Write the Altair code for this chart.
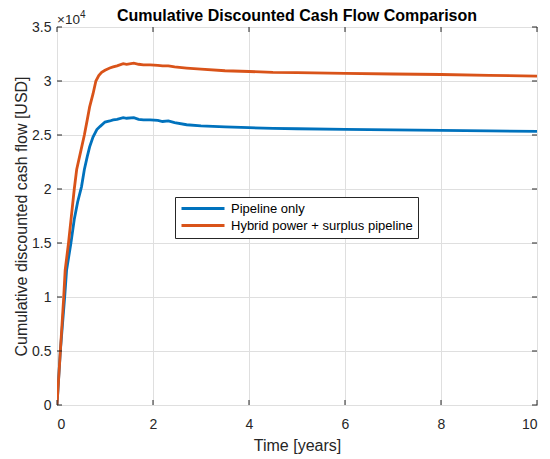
import altair as alt
import pandas as pd

# ---- data (cumulative discounted cash flow, in units of 10^4 USD) ----
series_names = ["Pipeline only", "Hybrid power + surplus pipeline"]
series_colors = ["#0072BD", "#D95319"]

t_pipeline = [0, 0.07, 0.16, 0.2, 0.29, 0.36, 0.43, 0.51, 0.57, 0.63, 0.68, 0.75,
              0.83, 0.9, 1.0, 1.1, 1.17, 1.25, 1.38, 1.45, 1.6, 1.7, 1.8, 1.94,
              2.1, 2.2, 2.32, 2.45, 2.7, 3.0, 3.5, 4.0, 4.5, 5.0, 6.0, 7.0, 8.0,
              9.0, 10.0]
v_pipeline = [0, 0.5, 1.0, 1.25, 1.5, 1.72, 1.88, 2.02, 2.18, 2.3, 2.39, 2.48,
              2.55, 2.58, 2.62, 2.63, 2.64, 2.645, 2.66, 2.655, 2.66, 2.645, 2.64,
              2.64, 2.635, 2.625, 2.63, 2.615, 2.595, 2.585, 2.575, 2.568, 2.562,
              2.558, 2.553, 2.548, 2.543, 2.538, 2.533]

t_hybrid = [0, 0.07, 0.14, 0.17, 0.24, 0.3, 0.36, 0.41, 0.5, 0.57, 0.63, 0.68,
            0.75, 0.81, 0.87, 0.93, 1.0, 1.1, 1.17, 1.25, 1.38, 1.45, 1.6, 1.7,
            1.8, 1.94, 2.1, 2.2, 2.32, 2.45, 2.7, 3.0, 3.5, 4.0, 4.5, 5.0, 6.0,
            7.0, 8.0, 9.0, 10.0]
v_hybrid = [0, 0.5, 1.0, 1.25, 1.5, 1.75, 2.0, 2.18, 2.36, 2.5, 2.64, 2.76,
            2.88, 3.0, 3.05, 3.08, 3.10, 3.12, 3.13, 3.14, 3.16, 3.155, 3.165,
            3.155, 3.15, 3.15, 3.145, 3.14, 3.14, 3.13, 3.12, 3.11, 3.095, 3.088,
            3.08, 3.077, 3.07, 3.065, 3.06, 3.053, 3.046]

x_ticks = [0, 2, 4, 6, 8, 10]
y_ticks = [0, 0.5, 1, 1.5, 2, 2.5, 3, 3.5]

title_text = "Cumulative Discounted Cash Flow Comparison"
exponent_base = "×10"
exponent_power = "4"

W, H = 480, 378
FONT = "Liberation Sans"
AX = "#262626"

df = pd.concat([
    pd.DataFrame({"t": t_pipeline, "v": v_pipeline, "series": series_names[0]}),
    pd.DataFrame({"t": t_hybrid, "v": v_hybrid, "series": series_names[1]}),
], ignore_index=True)

xscale = alt.Scale(domain=[0, 10], nice=False, zero=False)
yscale = alt.Scale(domain=[0, 3.5], nice=False)

lines = alt.Chart(df).mark_line(strokeWidth=2.8, clip=True).encode(
    x=alt.X("t:Q", scale=xscale,
            axis=alt.Axis(values=x_ticks, title="Time [years]", format="~r",
                          labelPadding=12, titlePadding=6)),
    y=alt.Y("v:Q", scale=yscale,
            axis=alt.Axis(values=y_ticks, title="Cumulative discounted cash flow [USD]",
                          format="~r", labelPadding=6, titlePadding=2)),
    color=alt.Color("series:N",
                    scale=alt.Scale(domain=series_names, range=series_colors),
                    legend=alt.Legend(title=None, orient="none", legendX=118, legendY=170,
                                      symbolType="M-1,0H7.6", symbolSize=100,
                                      symbolStrokeWidth=2.8, labelOffset=38,
                                      labelFontSize=13, labelFont=FONT, labelColor="black",
                                      padding=5, rowPadding=3, strokeColor=AX,
                                      fillColor="white", cornerRadius=0, labelLimit=400)),
)

xt_df = pd.DataFrame({"xt": x_ticks})
yt_df = pd.DataFrame({"yt": y_ticks})

tick_bottom = alt.Chart(xt_df).mark_rule(color=AX, strokeWidth=1).encode(
    x=alt.X("xt:Q", scale=xscale), y=alt.value(H), y2=alt.value(H - 5))
tick_top = alt.Chart(xt_df).mark_rule(color=AX, strokeWidth=1).encode(
    x=alt.X("xt:Q", scale=xscale), y=alt.value(0), y2=alt.value(5))
tick_left = alt.Chart(yt_df).mark_rule(color=AX, strokeWidth=1).encode(
    y=alt.Y("yt:Q", scale=yscale), x=alt.value(0), x2=alt.value(5))
tick_right = alt.Chart(yt_df).mark_rule(color=AX, strokeWidth=1).encode(
    y=alt.Y("yt:Q", scale=yscale), x=alt.value(W), x2=alt.value(W - 5))

exp_base = alt.Chart(pd.DataFrame({"s": [exponent_base]})).mark_text(
    align="left", baseline="alphabetic", fontSize=13.5, font=FONT, color=AX
).encode(text="s:N", x=alt.value(0), y=alt.value(-3.5))
exp_pow = alt.Chart(pd.DataFrame({"s": [exponent_power]})).mark_text(
    align="left", baseline="alphabetic", fontSize=10, font=FONT, color=AX
).encode(text="s:N", x=alt.value(23), y=alt.value(-9))

title_mark = alt.Chart(pd.DataFrame({"s": [title_text]})).mark_text(
    align="center", baseline="alphabetic", fontSize=16, font=FONT,
    fontWeight="bold", color="black"
).encode(text="s:N", x=alt.value(W / 2), y=alt.value(-6.5))

chart = alt.layer(
    lines, tick_bottom, tick_top, tick_left, tick_right, exp_base, exp_pow, title_mark
).properties(
    width=W, height=H,
    autosize=alt.AutoSizeParams(type="none"),
    padding={"left": 49, "top": 19, "right": 5, "bottom": 52},
).configure_view(
    stroke=AX, strokeWidth=1
).configure_axis(
    domain=False, tickSize=0, grid=True, gridColor="#dfdfdf", gridWidth=1,
    labelFont=FONT, labelFontSize=14, labelColor=AX,
    titleFont=FONT, titleFontSize=16, titleFontWeight="normal", titleColor=AX
)

chart.save("out.html", embed_options={"renderer": "svg", "actions": False})
